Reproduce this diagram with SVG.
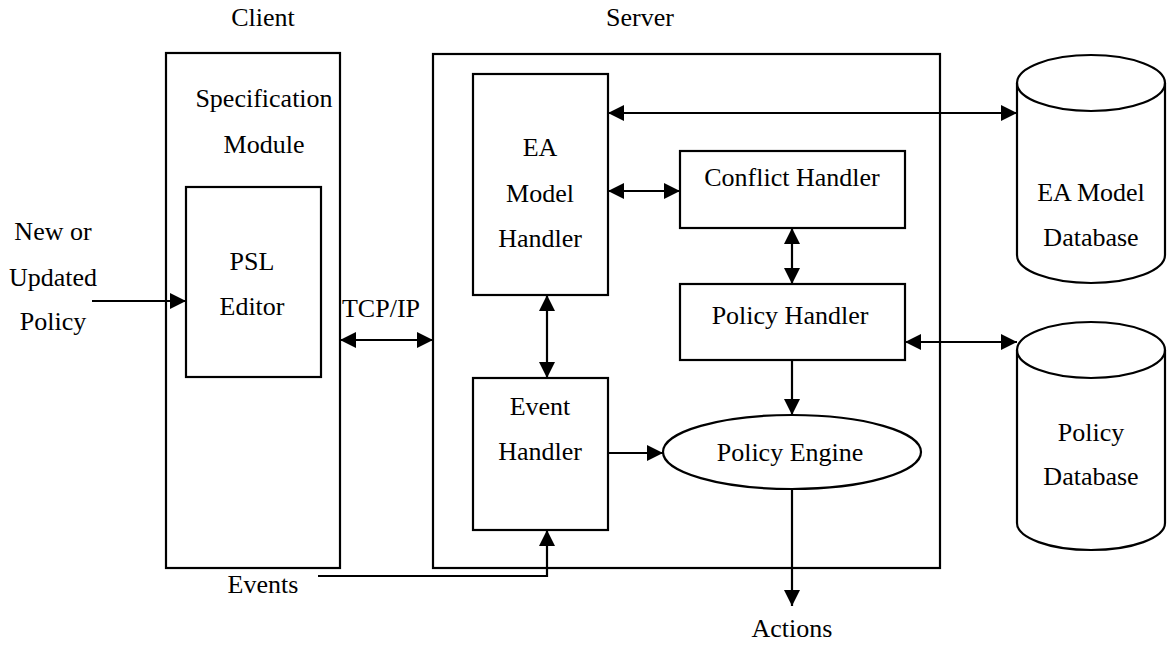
<svg xmlns="http://www.w3.org/2000/svg" width="1167" height="645" viewBox="0 0 1167 645">
  <style>
    text { font-family: "Liberation Serif", "Times New Roman", serif; font-size: 26px; fill: #000; text-anchor: middle; }
    .box { fill: none; stroke: #000; stroke-width: 2.2; }
    .wire { fill: none; stroke: #000; stroke-width: 2.2; }
  </style>
  <defs>
    <marker id="arrow" viewBox="0 0 10 10" refX="10" refY="5" markerWidth="18" markerHeight="16" markerUnits="userSpaceOnUse" orient="auto-start-reverse">
      <path d="M0,0 L10,5 L0,10 z" fill="#000"/>
    </marker>
  </defs>

  <!-- column titles -->
  <text x="263" y="26">Client</text>
  <text x="640" y="26">Server</text>

  <!-- client side -->
  <g id="client">
    <rect class="box" x="166" y="53" width="174" height="515"/>
    <text x="264" y="107">Specification</text>
    <text x="264" y="153">Module</text>
  </g>
  <g id="psl-editor">
    <rect class="box" x="186" y="187" width="135" height="190"/>
    <text x="252" y="270">PSL</text>
    <text x="252" y="315">Editor</text>
  </g>

  <!-- server side -->
  <g id="server">
    <rect class="box" x="433" y="54" width="507" height="514"/>
  </g>
  <g id="ea-model-handler">
    <rect class="box" x="473" y="74" width="135" height="221"/>
    <text x="540" y="156">EA</text>
    <text x="540" y="202">Model</text>
    <text x="540" y="247">Handler</text>
  </g>
  <g id="conflict-handler">
    <rect class="box" x="680" y="151" width="225" height="77"/>
    <text x="792" y="186">Conflict Handler</text>
  </g>
  <g id="policy-handler">
    <rect class="box" x="680" y="284" width="225" height="76"/>
    <text x="790" y="324">Policy Handler</text>
  </g>
  <g id="event-handler">
    <rect class="box" x="473" y="378" width="135" height="152"/>
    <text x="540" y="415">Event</text>
    <text x="540" y="460">Handler</text>
  </g>
  <g id="policy-engine">
    <ellipse class="box" cx="792" cy="452" rx="129" ry="37"/>
    <text x="790" y="461">Policy Engine</text>
  </g>

  <!-- databases -->
  <g id="ea-model-database">
    <path class="box" d="M1017,83 L1017,255 A74,28 0 0 0 1165,255 L1165,83"/>
    <ellipse class="box" cx="1091" cy="83" rx="74" ry="28"/>
    <text x="1091" y="201">EA Model</text>
    <text x="1091" y="246">Database</text>
  </g>
  <g id="policy-database">
    <path class="box" d="M1017,350 L1017,523 A74,27 0 0 0 1165,523 L1165,350"/>
    <ellipse class="box" cx="1091" cy="350" rx="74" ry="28"/>
    <text x="1091" y="441">Policy</text>
    <text x="1091" y="485">Database</text>
  </g>

  <!-- outside labels -->
  <g id="new-policy">
    <text x="53" y="240">New or</text>
    <text x="53" y="286">Updated</text>
    <text x="53" y="330">Policy</text>
  </g>
  <g id="tcp-ip">
    <text x="381" y="317">TCP/IP</text>
  </g>
  <g id="events">
    <text x="263" y="593">Events</text>
  </g>
  <g id="actions">
    <text x="792" y="637">Actions</text>
  </g>

  <!-- connectors -->
  <g id="connectors">
    <line class="wire" x1="92" y1="301" x2="186" y2="301" marker-end="url(#arrow)"/>
    <line class="wire" x1="340" y1="340" x2="433" y2="340" marker-start="url(#arrow)" marker-end="url(#arrow)"/>
    <line class="wire" x1="608" y1="113" x2="1017" y2="113" marker-start="url(#arrow)" marker-end="url(#arrow)"/>
    <line class="wire" x1="608" y1="191" x2="680" y2="191" marker-start="url(#arrow)" marker-end="url(#arrow)"/>
    <line class="wire" x1="792" y1="228" x2="792" y2="284" marker-start="url(#arrow)" marker-end="url(#arrow)"/>
    <line class="wire" x1="905" y1="342" x2="1017" y2="342" marker-start="url(#arrow)" marker-end="url(#arrow)"/>
    <line class="wire" x1="792" y1="360" x2="792" y2="415" marker-end="url(#arrow)"/>
    <line class="wire" x1="547" y1="295" x2="547" y2="378" marker-start="url(#arrow)" marker-end="url(#arrow)"/>
    <line class="wire" x1="608" y1="453" x2="663" y2="453" marker-end="url(#arrow)"/>
    <polyline class="wire" points="318,576 547,576 547,530" marker-end="url(#arrow)"/>
    <line class="wire" x1="792" y1="489" x2="792" y2="606" marker-end="url(#arrow)"/>
  </g>
</svg>
